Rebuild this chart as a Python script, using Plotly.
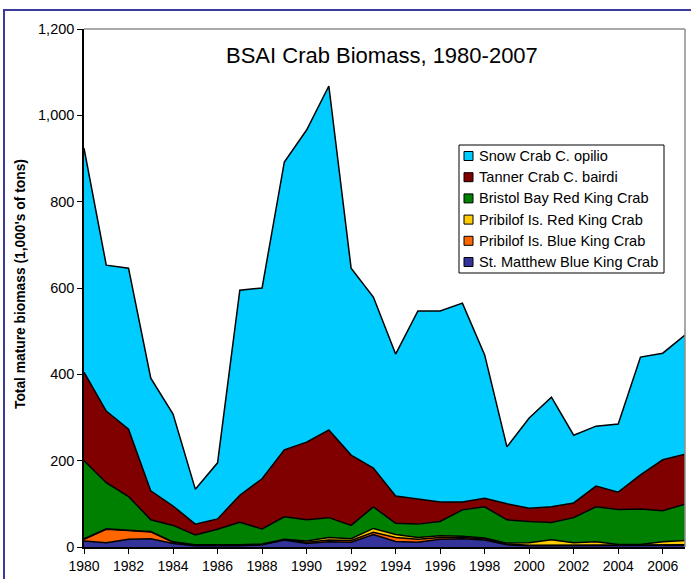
import plotly.graph_objects as go

years = list(range(1980, 2008))

names = [
    "Snow Crab C. opilio",
    "Tanner Crab C. bairdi",
    "Bristol Bay Red King Crab",
    "Pribilof Is. Red King Crab",
    "Pribilof Is. Blue King Crab",
    "St. Matthew Blue King Crab",
]
colors = ["#00CCFF", "#800000", "#008000", "#FFCC00", "#FF6600", "#333399"]

st_matthew = [14, 10, 18, 19, 8, 3, 3, 3, 5, 16, 8, 12, 11, 29, 13, 11, 18, 19, 16, 5, 3, 3, 3, 3, 3, 3, 4, 4]
pribilof_blue = [4, 31, 20, 16, 3, 1, 1, 1, 1, 1, 3, 4, 4, 5, 9, 7, 4, 3, 3, 2, 1, 1, 1, 1, 1, 1, 1, 1]
pribilof_red = [1, 1, 1, 1, 1, 1, 1, 1, 1, 1, 3, 6, 4, 9, 7, 4, 4, 3, 2, 2, 6, 13, 6, 8, 2, 2, 7, 10]
bristol_bay = [181, 107, 78, 27, 38, 23, 36, 52, 35, 52, 49, 46, 31, 50, 26, 31, 33, 61, 72, 54, 49, 40, 58, 81, 81, 82, 72, 84]
tanner = [205, 166, 156, 67, 45, 25, 24, 63, 116, 155, 180, 203, 163, 90, 63, 58, 45, 18, 20, 37, 31, 36, 34, 48, 40, 79, 118, 116]
snow = [519, 338, 373, 261, 213, 81, 130, 475, 442, 667, 723, 797, 433, 396, 329, 436, 443, 461, 332, 132, 209, 254, 157, 139, 158, 273, 247, 276]

x_tickvals = list(range(1980, 2007, 2))
y_tickvals = [0, 200, 400, 600, 800, 1000, 1200]

series = [snow, tanner, bristol_bay, pribilof_red, pribilof_blue, st_matthew]

FONT = "Liberation Sans, Arial, sans-serif"

fig = go.Figure()
# stack from bottom up
for name, col, vals in reversed(list(zip(names, colors, series))):
    fig.add_trace(go.Scatter(
        x=years, y=vals, name=name, mode="lines",
        stackgroup="one", fillcolor=col,
        line=dict(color="black", width=1.5),
        showlegend=False, hoverinfo="x+y+name",
    ))

# plot-area pixel geometry helpers
L, R, T, B = 84, 6, 29, 32
W, H = 691, 579
pw, ph = W - L - R, H - T - B
def px(x):
    return (x - L) / pw
def py(y):
    return (H - B - y) / ph

shapes = []
annotations = []

# outer frame (only top and left visible)
shapes.append(dict(type="rect", xref="paper", yref="paper",
                   x0=px(4), x1=px(720), y0=py(620), y1=py(10),
                   line=dict(color="#3B3B9E", width=2), layer="below"))
# top and right plot-area border in gray
shapes.append(dict(type="line", xref="paper", yref="paper", x0=0, x1=1, y0=1, y1=1,
                   line=dict(color="#8C8C8C", width=1.5)))
shapes.append(dict(type="line", xref="paper", yref="paper", x0=1, x1=1, y0=0, y1=1,
                   line=dict(color="#8C8C8C", width=1.5)))

# manual legend
lx0, lx1, ly0, ly1 = 459, 664, 145, 273
shapes.append(dict(type="rect", xref="paper", yref="paper",
                   x0=px(lx0), x1=px(lx1), y0=py(ly1), y1=py(ly0),
                   line=dict(color="black", width=1), fillcolor="white"))
for i, (name, col) in enumerate(zip(names, colors)):
    cy = 156 + 21.2 * i
    shapes.append(dict(type="rect", xref="paper", yref="paper",
                       x0=px(464), x1=px(473), y0=py(cy + 4.5), y1=py(cy - 4.5),
                       line=dict(color="black", width=1), fillcolor=col))
    annotations.append(dict(x=px(477), y=py(cy), xref="paper", yref="paper",
                            text=name, showarrow=False, xanchor="left", yanchor="middle",
                            font=dict(family=FONT, size=14.6, color="black")))

# title inside plot
annotations.append(dict(x=px(382), y=py(55), xref="paper", yref="paper",
                        text="BSAI Crab Biomass, 1980-2007", showarrow=False,
                        xanchor="center", yanchor="middle",
                        font=dict(family=FONT, size=22, color="black")))
# y-axis title
annotations.append(dict(x=px(20), y=py(284), xref="paper", yref="paper",
                        text="<b>Total mature biomass (1,000's of tons)</b>", showarrow=False,
                        textangle=-90, xanchor="center", yanchor="middle",
                        font=dict(family=FONT, size=13.8, color="black")))

fig.update_layout(
    width=W, height=H,
    margin=dict(l=L, r=R, t=T, b=B, pad=0),
    paper_bgcolor="white", plot_bgcolor="white",
    showlegend=False,
    shapes=shapes, annotations=annotations,
    font=dict(family=FONT, size=14, color="black"),
    xaxis=dict(range=[1980, 2007], tickvals=x_tickvals, ticktext=[str(v) for v in x_tickvals],
               ticks="outside", ticklen=5, tickcolor="black", tickwidth=1,
               showline=True, linecolor="black", linewidth=1.5,
               showgrid=False, zeroline=False, tickfont=dict(size=14)),
    yaxis=dict(range=[0, 1200], tickvals=y_tickvals, tickformat=",",
               ticks="outside", ticklen=5, tickcolor="black", tickwidth=1,
               showline=True, linecolor="black", linewidth=1.5,
               showgrid=False, zeroline=False, tickfont=dict(size=14.5)),
)

fig.write_html("out.html")
